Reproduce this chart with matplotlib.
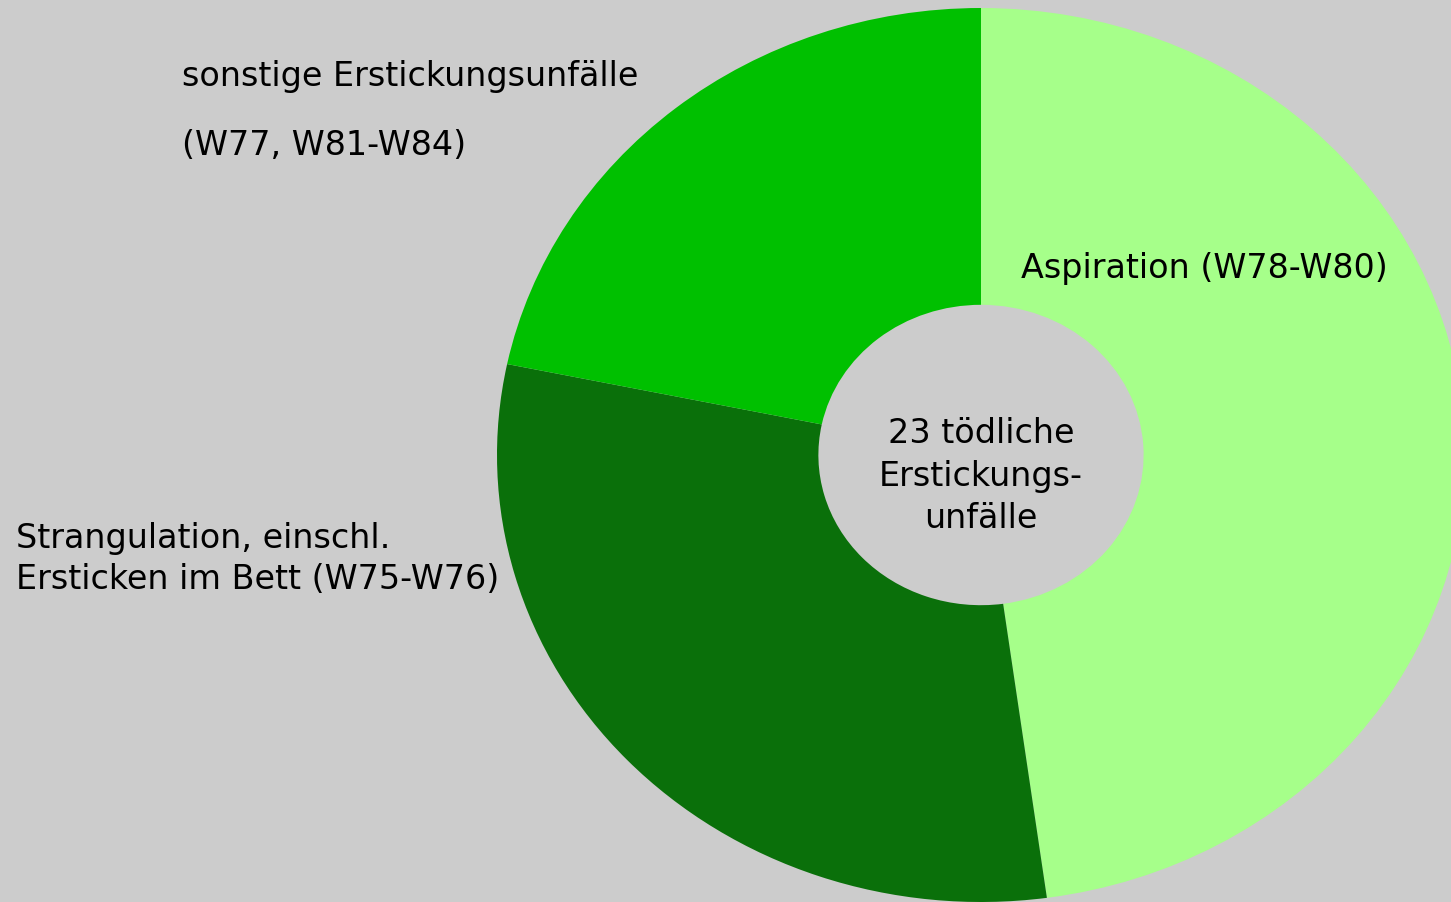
import matplotlib
matplotlib.use("Agg")
import matplotlib.pyplot as plt

# 23 toedliche Erstickungsunfaelle
categories = ["Aspiration (W78-W80)",
              "Strangulation, einschl.\nErsticken im Bett (W75-W76)",
              "sonstige Erstickungsunfälle\n(W77, W81-W84)"]
counts = [11, 7, 5]
colors = ["#a6ff8a", "#0a700a", "#00c000"]
total_label = "23 tödliche\nErstickungs-\nunfälle"

bg = "#cccccc"
plt.rcParams['font.family'] = ['DejaVu Sans']

fig = plt.figure(figsize=(14.51, 9.02), dpi=100, facecolor=bg)
ax = fig.add_axes([0, 0, 1, 1])
ax.set_facecolor(bg)

# pie is slightly stretched horizontally in the original
sx, sy = 484.0, 447.0
cx, cy = 981.0, 455.0
wedges, _ = ax.pie(counts, colors=colors, startangle=90, counterclock=False,
                   radius=1.0, wedgeprops=dict(width=0.664, linewidth=0))
ax.set_aspect('auto')
ax.set_xlim(-cx / sx, (1451 - cx) / sx)
ax.set_ylim(-(902 - cy) / sy, cy / sy)
ax.axis('off')

def px(x, y):
    return ((x - cx) / sx, (cy - y) / sy)

fs = 24
ax.text(*px(1021, 268), categories[0], fontsize=fs, ha='left', va='center')
ax.text(*px(16, 559), categories[1], fontsize=fs, ha='left', va='center',
        linespacing=1.32)
ax.text(*px(182, 111), categories[2], fontsize=fs, ha='left', va='center',
        linespacing=2.37)
ax.text(0, px(0, 476)[1], total_label, fontsize=fs, ha='center', va='center',
        linespacing=1.35)

fig.savefig("out.png", dpi=100, facecolor=bg)
